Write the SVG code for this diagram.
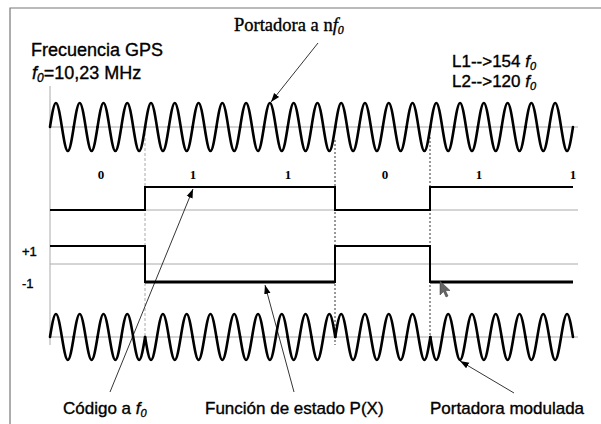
<svg xmlns="http://www.w3.org/2000/svg" width="601" height="424" viewBox="0 0 601 424">
<style>
.frame{stroke:#777;stroke-width:1.2;fill:none}
.axis{stroke:#aaa;stroke-width:1;fill:none}
.wave{stroke:#000;stroke-width:2.6;fill:none;stroke-linecap:round;stroke-linejoin:round}
.sig{stroke:#000;stroke-width:2;fill:none}
.sig3{stroke:#000;stroke-width:3;fill:none}
.dash{stroke:#333;stroke-width:1;stroke-dasharray:2,2;fill:none}
.dashl{stroke:#aaa;stroke-width:1;stroke-dasharray:3,2;fill:none}
.lead{stroke:#000;stroke-width:0.8;fill:none;marker-end:url(#ah)}
.sans{font-family:"Liberation Sans",Arial,sans-serif;fill:#000;stroke:#000;stroke-width:0.35}
.serif{font-family:"Liberation Serif","Times New Roman",serif;fill:#000}
</style>
<defs>
<marker id="ah" markerWidth="10" markerHeight="8" refX="9" refY="4" orient="auto" markerUnits="userSpaceOnUse"><path d="M0,0.8 L9,4 L0,7.2 z" fill="#000"/></marker>
<path id="cu" d="M0,0 c1.938,-12.295 3.9,-24 5.943,-24 c2.042,0 4.004,11.705 5.943,24 c1.938,12.295 3.9,24 5.943,24 c2.042,0 4.004,-11.705 5.943,-24"/>
<path id="mu" d="M0,0 c1.938,-11.783 3.9,-23 5.943,-23 c2.042,0 4.004,11.217 5.943,23 c1.938,11.783 3.9,23 5.943,23 c2.042,0 4.004,-11.217 5.943,-23"/>
<path id="md" d="M0,0 c1.938,11.783 3.9,23 5.943,23 c2.042,0 4.004,-11.217 5.943,-23 c1.938,-11.783 3.9,-23 5.943,-23 c2.042,0 4.004,11.217 5.943,23"/>
</defs>

<g id="frame">
<path class="frame" d="M10,424 V8 H601"/>
</g>

<g id="axes">
<path class="axis" d="M50,86 V345"/>
<path class="axis" d="M50,127 H578"/>
<path class="axis" d="M50,210 H578"/>
<path class="axis" d="M50,264 H578"/>
<path class="axis" d="M50,337 H578"/>
</g>

<g id="dashes">
<path class="dashl" d="M145,133 V345"/>
<path class="dash" d="M335,140 V345"/>
<path class="dash" d="M430,137 V345"/>
</g>

<g id="carrier" class="wave">
<use href="#cu" x="50" y="127"/><use href="#cu" x="73.772" y="127"/><use href="#cu" x="97.544" y="127"/><use href="#cu" x="121.316" y="127"/>
<use href="#cu" x="145.088" y="127"/><use href="#cu" x="168.86" y="127"/><use href="#cu" x="192.632" y="127"/><use href="#cu" x="216.404" y="127"/>
<use href="#cu" x="240.176" y="127"/><use href="#cu" x="263.948" y="127"/><use href="#cu" x="287.72" y="127"/><use href="#cu" x="311.492" y="127"/>
<use href="#cu" x="335.264" y="127"/><use href="#cu" x="359.036" y="127"/><use href="#cu" x="382.808" y="127"/><use href="#cu" x="406.58" y="127"/>
<use href="#cu" x="430.352" y="127"/><use href="#cu" x="454.124" y="127"/><use href="#cu" x="477.896" y="127"/><use href="#cu" x="501.668" y="127"/>
<use href="#cu" x="525.44" y="127"/><use href="#cu" x="549.212" y="127"/>
</g>

<g id="code">
<path class="sig" d="M50,210 H145 V187 H335 V210 H430 V187 H573"/>
</g>

<g id="pstate">
<path class="sig" d="M50,246 H145 V282 H335 V246 H430 V282 H573"/>
<path class="sig3" d="M145,282 H335 M430,282 H573"/>
</g>

<g id="modulated" class="wave">
<use href="#mu" x="50" y="337"/><use href="#mu" x="73.772" y="337"/><use href="#mu" x="97.544" y="337"/><use href="#mu" x="121.316" y="337"/>
<use href="#md" x="145.088" y="337"/><use href="#md" x="168.86" y="337"/><use href="#md" x="192.632" y="337"/><use href="#md" x="216.404" y="337"/>
<use href="#md" x="240.176" y="337"/><use href="#md" x="263.948" y="337"/><use href="#md" x="287.72" y="337"/><use href="#md" x="311.492" y="337"/>
<use href="#mu" x="335.264" y="337"/><use href="#mu" x="359.036" y="337"/><use href="#mu" x="382.808" y="337"/><use href="#mu" x="406.58" y="337"/>
<use href="#md" x="430.352" y="337"/><use href="#md" x="454.124" y="337"/><use href="#md" x="477.896" y="337"/><use href="#md" x="501.668" y="337"/>
<use href="#md" x="525.44" y="337"/><use href="#md" x="549.212" y="337"/>
</g>

<g id="connectors">
<path class="lead" d="M318,43 L271,102"/>
<path class="lead" d="M110,392 L193,189"/>
<path class="lead" d="M294,392 L265,285"/>
<path class="lead" d="M514,393 L460,361"/>
</g>

<g id="bits" class="serif" font-size="13" font-weight="bold" text-anchor="middle">
<text x="101" y="179">0</text>
<text x="193" y="179">1</text>
<text x="288" y="179">1</text>
<text x="385" y="179">0</text>
<text x="479" y="179">1</text>
<text x="573" y="179">1</text>
</g>

<g id="levels" class="sans" font-size="13">
<text x="22" y="256">+1</text>
<text x="22" y="288">-1</text>
</g>

<g id="labels">
<text class="serif" x="234" y="31" font-size="18.5" stroke="#000" stroke-width="0.35">Portadora a n<tspan font-style="italic">f</tspan><tspan font-size="12" font-style="italic" dy="3">0</tspan></text>
<text class="sans" x="31" y="56" font-size="18">Frecuencia GPS</text>
<text class="sans" x="32" y="79" font-size="18"><tspan font-style="italic">f</tspan><tspan font-size="12" font-style="italic" dy="3">0</tspan><tspan dy="-3">=10,23 MHz</tspan></text>
<text class="sans" x="452" y="67" font-size="17">L1--&gt;154 <tspan font-style="italic">f</tspan><tspan font-size="11" font-style="italic" dy="3">0</tspan></text>
<text class="sans" x="452" y="87" font-size="17">L2--&gt;120 <tspan font-style="italic">f</tspan><tspan font-size="11" font-style="italic" dy="3">0</tspan></text>
<text class="sans" x="63" y="414" font-size="17">Código a <tspan font-style="italic">f</tspan><tspan font-size="11" font-style="italic" dy="3">0</tspan></text>
<text class="sans" x="205" y="414" font-size="17">Función de estado P(X)</text>
<text class="sans" x="430" y="414" font-size="17">Portadora modulada</text>
</g>

<g id="cursor">
<path d="M440,281 V295 L443.5,291.5 L446,297 L448,296 L445.5,290.5 L450,290.5 Z" fill="#666" stroke="#333" stroke-width="0.5"/>
</g>
</svg>
